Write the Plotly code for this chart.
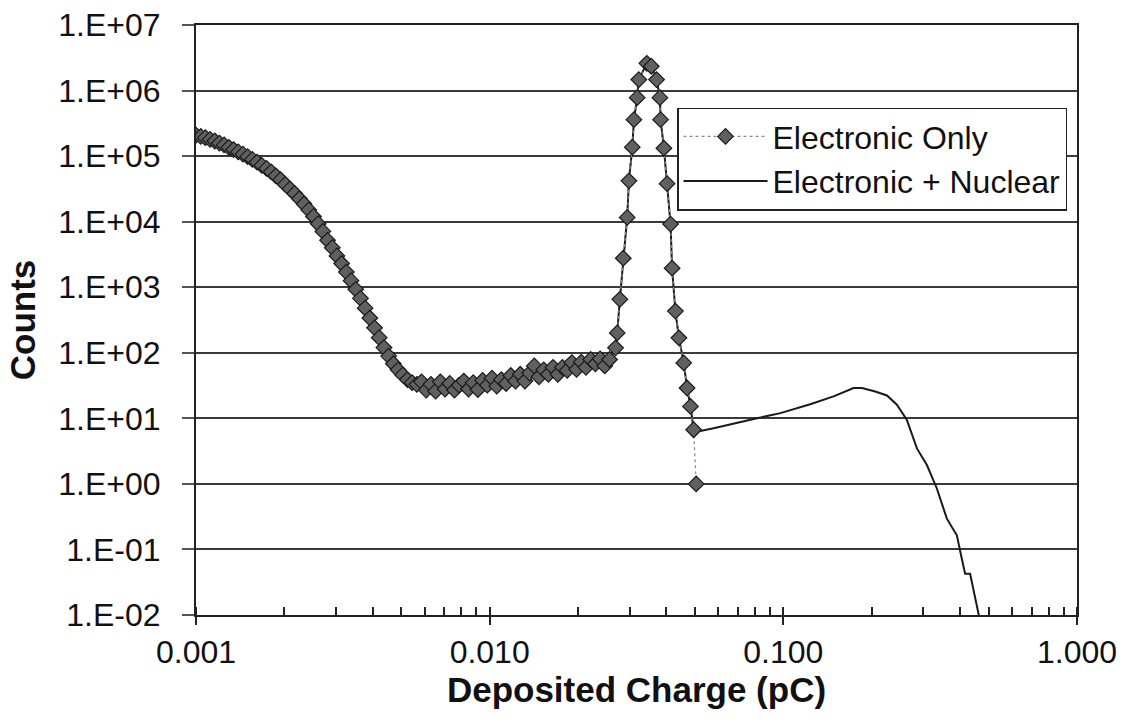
import plotly.graph_objects as go

# Deposited-charge spectrum: low-energy tail, plateau and main peak (pC, counts)
charge_low = [
    0.001000, 0.001038, 0.001076, 0.001117, 0.001159, 0.001202, 0.001247, 0.001294,
    0.001343, 0.001393, 0.001445, 0.001500, 0.001556, 0.001614, 0.001675, 0.001738,
    0.001803, 0.001871, 0.001941, 0.002014, 0.002089, 0.002168, 0.002249, 0.002333,
    0.002421, 0.002512, 0.002606, 0.002704, 0.002805, 0.002911, 0.003020, 0.003133,
    0.003251, 0.003373, 0.003499, 0.003631, 0.003767, 0.003908, 0.004055, 0.004207,
    0.004365, 0.004529, 0.004699, 0.004875, 0.005058, 0.005248, 0.005445, 0.005649,
    0.005861, 0.006081, 0.006310, 0.006546, 0.006792, 0.007047, 0.007311, 0.007586,
    0.007870, 0.008166, 0.008472, 0.008790, 0.009120, 0.009462, 0.009817, 0.01019,
    0.01057, 0.01096, 0.01138, 0.01180, 0.01225, 0.01271, 0.01318, 0.01368,
    0.01419, 0.01472, 0.01528, 0.01585, 0.01644, 0.01706, 0.01770, 0.01837,
    0.01905, 0.01977, 0.02051, 0.02128, 0.02208, 0.02291, 0.02377, 0.02466,
    0.02559,
]
counts_low = [
    2.09e5, 2.00e5, 1.91e5, 1.80e5, 1.70e5, 1.58e5, 1.48e5, 1.36e5,
    1.26e5, 1.16e5, 1.07e5, 9.8e4, 8.9e4, 8.1e4, 7.2e4, 6.5e4,
    5.75e4, 5.0e4, 4.37e4, 3.7e4, 3.16e4, 2.69e4, 2.24e4, 1.86e4,
    1.51e4, 1.20e4, 9.3e3, 7.1e3, 5.2e3, 4.0e3, 3.0e3, 2.3e3,
    1.7e3, 1.26e3, 930, 676, 479, 339, 240, 170,
    120, 89, 68, 55, 46, 39, 35, 33,
    36, 27, 33, 26, 36, 28, 34, 27,
    32, 37, 28, 35, 27.5, 38, 32, 41,
    31, 39, 34, 45, 37, 47, 37, 49,
    63, 43, 55, 47, 60, 47, 60, 54,
    71, 56, 72, 60, 79, 68, 81, 63,
    79,
]
charge_peak = [
    0.02683, 0.02719, 0.02775, 0.02850, 0.02940, 0.02980, 0.03060, 0.03100,
    0.03180, 0.03220, 0.03430, 0.03550, 0.03700, 0.03800, 0.03820, 0.03920,
    0.04020, 0.04130, 0.04180, 0.04290, 0.04410, 0.04580, 0.04700, 0.04830,
    0.04950,
]
counts_peak = [
    119, 201, 653, 2770, 1.16e4, 4.2e4, 1.37e5, 3.6e5,
    7.8e5, 1.47e6, 2.6e6, 2.35e6, 1.47e6, 7.8e5, 3.6e5, 1.32e5,
    3.8e4, 9.2e3, 1.95e3, 432, 169, 70, 29, 15.2,
    6.7,
]
# Last electronic-only bin
charge_end = [0.0505]
counts_end = [1.0]

# Nuclear-reaction tail beyond the electronic peak
charge_nuclear = [
    0.0522, 0.0579, 0.0696, 0.0793, 0.0977, 0.1235, 0.1483, 0.1734,
    0.1852, 0.2055, 0.2253, 0.2436, 0.2635, 0.2850, 0.3082, 0.3333,
    0.3604, 0.3898, 0.4053, 0.4159, 0.4325, 0.4499, 0.4679,
]
counts_nuclear = [
    6.44, 7.06, 8.42, 9.8, 12.0, 16.4, 21.6, 28.9,
    28.9, 25.7, 22.3, 16.1, 9.48, 3.48, 1.94, 0.851,
    0.295, 0.164, 0.0721, 0.0425, 0.0425, 0.0176, 0.008,
]

x_tickvals = [0.001, 0.01, 0.1, 1.0]
x_ticktext = ["0.001", "0.010", "0.100", "1.000"]
y_tickvals = [1e-2, 1e-1, 1e0, 1e1, 1e2, 1e3, 1e4, 1e5, 1e6, 1e7]
y_ticktext = ["1.E-02", "1.E-01", "1.E+00", "1.E+01", "1.E+02",
              "1.E+03", "1.E+04", "1.E+05", "1.E+06", "1.E+07"]

electronic_x = charge_low + charge_peak + charge_end
electronic_y = counts_low + counts_peak + counts_end
combined_x = charge_low + charge_peak + charge_nuclear
combined_y = counts_low + counts_peak + counts_nuclear

# minor tick positions (2..9 per decade, plus the decades themselves)
minor_vals = [m * 10.0 ** e for e in (-3, -2, -1) for m in range(1, 10)] + [1.0]

FONT = "Liberation Sans, Arial, sans-serif"

fig = go.Figure()
fig.add_trace(go.Scatter(
    x=combined_x, y=combined_y, mode="lines", name="Electronic + Nuclear",
    line=dict(color="#1a1a1a", width=2), legendrank=2,
))
fig.add_trace(go.Scatter(
    x=electronic_x, y=electronic_y, mode="lines+markers", name="Electronic Only",
    line=dict(color="#8a8a8a", width=1.2, dash="dot"),
    marker=dict(symbol="diamond", size=12, color="#606060",
                line=dict(color="#1a1a1a", width=1.2)),
    legendrank=1,
))

fig.update_layout(
    width=1127, height=727,
    margin=dict(l=196, r=50, t=25, b=112),
    paper_bgcolor="white", plot_bgcolor="white",
    font=dict(family=FONT, size=32, color="#111"),
    showlegend=True,
    legend=dict(
        x=0.546, y=0.86, xanchor="left", yanchor="top",
        bgcolor="white", bordercolor="#222", borderwidth=1.5,
        font=dict(size=32), itemwidth=84, tracegroupgap=0,
    ),
)
fig.update_xaxes(
    type="log", range=[-3, 0],
    tickvals=x_tickvals, ticktext=x_ticktext,
    ticks="outside", ticklen=8, tickwidth=2, tickcolor="#222",
    minor=dict(tickvals=minor_vals, ticks="inside", ticklen=8,
               tickwidth=1.5, tickcolor="#222", showgrid=False),
    showgrid=False, showline=True, linecolor="#222", linewidth=2, mirror=True,
    tickfont=dict(size=32),
    title=dict(text="<b>Deposited Charge (pC)</b>", font=dict(size=35), standoff=2),
    automargin=False,
)
fig.update_yaxes(
    type="log", range=[-2, 7],
    tickvals=y_tickvals, ticktext=y_ticktext,
    ticks="outside", ticklen=12, tickwidth=1.5, tickcolor="#555",
    showgrid=True, gridcolor="#3a3a3a", gridwidth=1.6,
    showline=True, linecolor="#222", linewidth=2, mirror=True,
    tickfont=dict(size=32), ticklabelstandoff=15,
    title=dict(text="<b>Counts</b>", font=dict(size=35), standoff=12),
    automargin=False, zeroline=False,
)

fig.write_html("out.html")
